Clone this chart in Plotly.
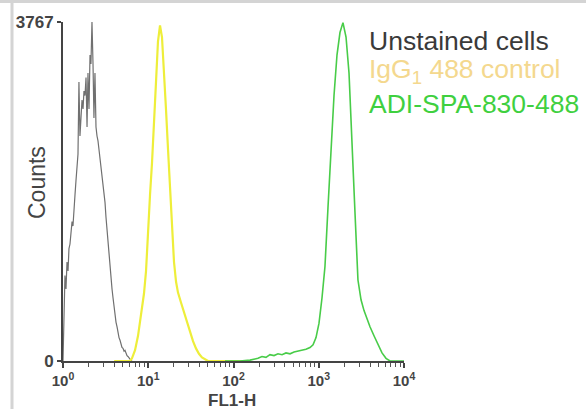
import plotly.graph_objects as go

# ---- data (log10 of FL1-H channel value, counts) ----
gray_log = [0.000, 0.012, 0.023, 0.035, 0.047, 0.059, 0.070, 0.082, 0.094, 0.106,
            0.117, 0.129, 0.141, 0.152, 0.164, 0.176, 0.187, 0.199, 0.211, 0.223,
            0.235, 0.246, 0.258, 0.270, 0.282, 0.293, 0.305, 0.317, 0.328, 0.340,
            0.352, 0.363, 0.375, 0.387, 0.399, 0.410, 0.422, 0.434, 0.446, 0.457,
            0.469, 0.481, 0.493, 0.504, 0.516, 0.528, 0.540, 0.551, 0.563, 0.575,
            0.587, 0.598, 0.610, 0.622, 0.634, 0.645, 0.657, 0.669, 0.680, 0.692,
            0.704, 0.716, 0.727, 0.739, 0.751, 0.762, 0.774, 0.786, 0.798, 0.809]
gray_counts = [0, 700, 950, 800, 1100, 1000, 1250, 1300, 1450, 1550,
               1500, 1750, 1850, 2000, 2150, 2300, 3100, 2500, 2700, 2900,
               2800, 3000, 2950, 3150, 2600, 3200, 2800, 3400, 3300, 3767,
               3300, 2700, 3200, 2600, 2500, 2450, 2350, 2250, 2150, 2100,
               1980, 1880, 1760, 1600, 1450, 1300, 1180, 1060, 900, 800,
               700, 600, 520, 430, 380, 310, 260, 230, 190, 150,
               140, 110, 120, 80, 60, 50, 30, 20, 10, 0]

yellow_log = [0.600, 0.786, 0.809, 0.845, 0.880, 0.915, 0.950, 0.974, 0.997, 1.021,
              1.044, 1.068, 1.091, 1.114, 1.138, 1.161, 1.185, 1.208, 1.232, 1.255,
              1.279, 1.302, 1.326, 1.349, 1.384, 1.419, 1.455, 1.490, 1.525, 1.560,
              1.595, 1.630, 1.666, 1.701, 2.100]
yellow_counts = [0, 0, 30, 120, 280, 500, 750, 1000, 1500, 1850,
                 2200, 2600, 3100, 3550, 3730, 3600, 3250, 2800, 2350, 1900,
                 1450, 1100, 880, 760, 650, 540, 430, 320, 220, 140,
                 80, 40, 15, 0, 0]

green_log = [1.900, 2.076, 2.194, 2.287, 2.334, 2.381, 2.428, 2.475, 2.522, 2.569,
             2.616, 2.663, 2.710, 2.757, 2.804, 2.850, 2.897, 2.933, 2.968, 3.003,
             3.038, 3.073, 3.108, 3.144, 3.179, 3.214, 3.249, 3.284, 3.320, 3.355,
             3.390, 3.425, 3.460, 3.496, 3.531, 3.566, 3.601, 3.648, 3.695, 3.742,
             3.789, 3.836, 4.000]
green_counts = [0, 0, 10, 30, 50, 40, 70, 60, 80, 70,
                90, 80, 100, 110, 120, 130, 150, 180, 260, 420,
                700, 1050, 1700, 2350, 2950, 3400, 3650, 3760, 3600, 3200,
                2500, 1650, 900, 680, 560, 460, 380, 280, 180, 90,
                30, 0, 0]

x_tick_vals = [1, 10, 100, 1000, 10000]
x_tick_text = ["<b>10</b><sup><b>0</b></sup>", "<b>10</b><sup><b>1</b></sup>",
               "<b>10</b><sup><b>2</b></sup>", "<b>10</b><sup><b>3</b></sup>",
               "<b>10</b><sup><b>4</b></sup>"]
y_max = 3767

legend_labels = ["Unstained cells", "IgG<sub>1</sub> 488 control", "ADI-SPA-830-488"]
legend_colors = ["#3a3a3a", "#f4d88e", "#3fd03f"]
legend_rows_px = [41, 71, 104]

fig = go.Figure()
fig.add_trace(go.Scatter(x=[10 ** v for v in gray_log], y=gray_counts, mode="lines",
                         line=dict(color="#707070", width=1.2), showlegend=False))
fig.add_trace(go.Scatter(x=[10 ** v for v in yellow_log], y=yellow_counts, mode="lines",
                         line=dict(color="#eeee3a", width=2.2), showlegend=False))
fig.add_trace(go.Scatter(x=[10 ** v for v in green_log], y=green_counts, mode="lines",
                         line=dict(color="#48cc48", width=1.6), showlegend=False))

minor_vals = []
for d in [1, 10, 100, 1000]:
    for k in range(2, 10):
        minor_vals.append(d * k)

fig.update_xaxes(type="log", range=[0, 4], showgrid=False, zeroline=False, automargin=False,
                 showline=True, linecolor="#444", linewidth=2,
                 tickmode="array", tickvals=x_tick_vals, ticktext=x_tick_text,
                 ticks="outside", ticklen=5, tickwidth=1.5, tickcolor="#444",
                 minor=dict(tickmode="array", tickvals=minor_vals, ticks="outside",
                            ticklen=4, tickwidth=1.2, tickcolor="#555"),
                 tickfont=dict(family="Liberation Sans, Arial", size=15, color="#444"))
fig.update_yaxes(range=[0, y_max], showgrid=False, zeroline=False, automargin=False,
                 showline=True, linecolor="#444", linewidth=2,
                 tickmode="array", tickvals=[0, y_max], ticktext=["<b>0</b>", "<b>3767</b>"],
                 ticks="outside", ticklen=4, tickwidth=1.5, tickcolor="#444",
                 tickfont=dict(family="Liberation Sans, Arial", size=17, color="#444"))

L, R, T, B = 63, 182, 22, 48
PW, PH = 586 - L - R, 409 - T - B

def px(xp):
    return (xp - L) / PW

def py(yp):
    return (409 - B - yp) / PH

ann = []
ann.append(dict(x=px(37), y=py(183), xref="paper", yref="paper", text="Counts",
                textangle=-90, showarrow=False, xanchor="center", yanchor="middle",
                font=dict(family="Liberation Sans, Arial", size=23, color="#444")))
ann.append(dict(x=px(232), y=py(401), xref="paper", yref="paper", text="<b>FL1-H</b>",
                showarrow=False, xanchor="center", yanchor="middle",
                font=dict(family="Liberation Sans, Arial", size=17, color="#444")))
for lab, col, yc in zip(legend_labels, legend_colors, legend_rows_px):
    ann.append(dict(x=px(367), y=py(yc), xref="paper", yref="paper", text=lab,
                    showarrow=False, xanchor="left", yanchor="middle",
                    font=dict(family="Liberation Sans, Arial", size=26.5, color=col)))

shapes = [
    dict(type="rect", xref="paper", yref="paper", x0=px(0), x1=px(586), y0=py(3), y1=py(0),
         fillcolor="#d4d4d4", line=dict(width=0), layer="above"),
    dict(type="rect", xref="paper", yref="paper", x0=px(10.5), x1=px(13.5), y0=py(409), y1=py(0),
         fillcolor="#d4d4d4", line=dict(width=0), layer="above"),
]

fig.update_layout(width=586, height=409, margin=dict(l=L, r=R, t=T, b=B),
                  paper_bgcolor="white", plot_bgcolor="white",
                  annotations=ann, shapes=shapes)

fig.write_html("out.html", config={"displayModeBar": False},
               post_script="document.body.style.margin='0';document.body.style.padding='0';document.body.style.overflow='hidden';")
